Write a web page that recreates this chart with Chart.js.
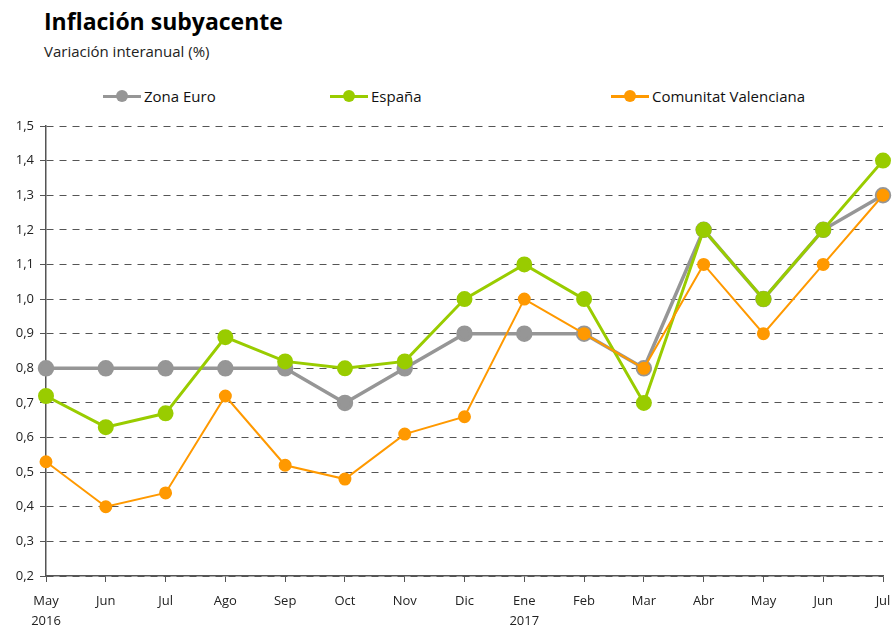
<!DOCTYPE html>
<html>
<head>
<meta charset="utf-8">
<script src="https://cdn.jsdelivr.net/npm/chart.js@4/dist/chart.umd.min.js"></script>
<style>
  body { margin: 0; background: #fff; font-family: "Open Sans", sans-serif; }
  #wrap { position: relative; width: 893px; height: 627px; }
  #title { position: absolute; left: 44px; top: 5px; font-size: 23px; font-weight: bold; color: #000; }
  #subtitle { position: absolute; left: 44px; top: 41px; font-size: 15px; color: #222; }
  .leg { position: absolute; top: 86px; font-size: 15px; color: #111; white-space: nowrap; }
  .mk { position: absolute; top: 9px; width: 38px; height: 3px; }
  .mk span { position: absolute; left: 13px; top: -5px; width: 12px; height: 12px; border-radius: 50%; }
  canvas { position: absolute; left: 0; top: 0; }
</style>
</head>
<body>
<div id="wrap">
  <div id="title">Inflación subyacente</div>
  <div id="subtitle">Variación interanual (%)</div>
  <div id="legend"></div>
  <canvas id="chart" width="893" height="627"></canvas>
</div>
<script>
const months = [['May', '2016'], 'Jun', 'Jul', 'Ago', 'Sep', 'Oct', 'Nov', 'Dic', ['Ene', '2017'], 'Feb', 'Mar', 'Abr', 'May', 'Jun', 'Jul'];
const zonaEuro = [0.8, 0.8, 0.8, 0.8, 0.8, 0.7, 0.8, 0.9, 0.9, 0.9, 0.8, 1.2, 1.0, 1.2, 1.3];
const espana = [0.72, 0.63, 0.67, 0.89, 0.82, 0.80, 0.82, 1.0, 1.1, 1.0, 0.70, 1.2, 1.0, 1.2, 1.4];
const valenciana = [0.53, 0.40, 0.44, 0.72, 0.52, 0.48, 0.61, 0.66, 1.0, 0.9, 0.8, 1.1, 0.9, 1.1, 1.3];
const seriesNames = ['Zona Euro', 'España', 'Comunitat Valenciana'];
const yMin = 0.2, yMax = 1.5, yStep = 0.1;

const colors = ['#969696', '#99cc00', '#ff9900'];

// legend in html, spread like the original
const legendX = [103, 330, 611];
const legend = document.getElementById('legend');
seriesNames.forEach((name, i) => {
    const item = document.createElement('div');
    item.className = 'leg';
    item.style.left = legendX[i] + 'px';
    item.innerHTML = '<div class="mk" style="background:' + colors[i] + '"><span style="background:' + colors[i] + '"></span></div>' +
        '<span style="margin-left:41px">' + name + '</span>';
    legend.appendChild(item);
});

new Chart(document.getElementById('chart'), {
    type: 'line',
    data: {
        labels: months,
        datasets: [{
            label: seriesNames[0],
            data: zonaEuro,
            borderColor: colors[0],
            backgroundColor: colors[0],
            borderWidth: 3.5,
            pointRadius: 6.5,
            order: 3
        }, {
            label: seriesNames[1],
            data: espana,
            borderColor: colors[1],
            backgroundColor: colors[1],
            borderWidth: 3,
            pointRadius: 6.5,
            order: 2
        }, {
            label: seriesNames[2],
            data: valenciana,
            borderColor: colors[2],
            backgroundColor: colors[2],
            borderWidth: 2,
            pointRadius: 5.5,
            order: 1
        }]
    },
    options: {
        responsive: false,
        animation: false,
        layout: { padding: { top: 126, right: 7, left: 0, bottom: 0 } },
        plugins: {
            legend: { display: false },
            tooltip: { enabled: false }
        },
        scales: {
            x: {
                offset: false,
                afterFit: s => { s.height = 51; s.paddingRight = 0; },
                grid: { drawOnChartArea: false, drawTicks: true, tickLength: 6, color: '#555' },
                border: { color: '#555', width: 1.5 },
                ticks: { color: '#222', font: { family: 'Open Sans', size: 13, lineHeight: 1.5 }, padding: 10, maxRotation: 0, autoSkip: false }
            },
            y: {
                min: yMin,
                max: yMax,
                afterFit: s => { s.width = 46; },
                grid: { color: '#555', tickLength: 6, tickBorderDash: [], tickColor: '#555' },
                border: { color: '#555', width: 1.5, dash: [7, 6] },
                ticks: {
                    stepSize: yStep,
                    color: '#222',
                    padding: 6,
                    font: { family: 'Open Sans', size: 13 },
                    callback: v => v.toFixed(1).replace('.', ',')
                }
            }
        }
    }
});
</script>
</body>
</html>
